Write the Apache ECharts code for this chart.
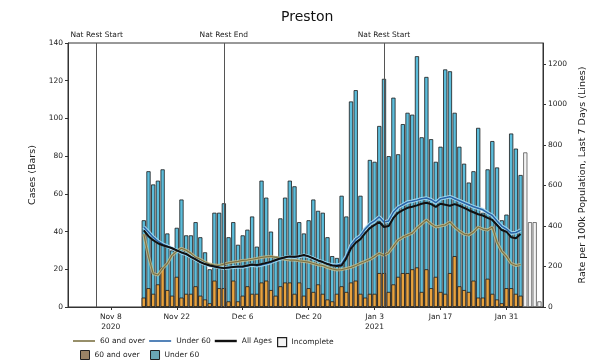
<!DOCTYPE html>
<html>
<head>
<meta charset="utf-8">
<script src="https://cdn.jsdelivr.net/npm/echarts@6/dist/echarts.min.js"></script>
<style>
  html, body { margin: 0; padding: 0; background: #fff; }
  #chart { width: 596px; height: 363px; }
</style>
</head>
<body>
<div id="chart"></div>
<script>
// daily values start on this date
const firstDay = '2020-11-15';

const over60Cases = [5, 10, 7, 12, 21, 9, 6, 16, 5, 7, 7, 11, 6, 4, 2, 14, 10, 10, 3, 14,
  3, 6, 11, 7, 7, 13, 14, 9, 6, 11, 13, 13, 7, 13, 6, 10, 8, 12, 7, 4,
  3, 7, 11, 8, 13, 14, 7, 5, 7, 7, 18, 18, 8, 12, 16, 18, 18, 20, 21, 8,
  20, 10, 16, 8, 7, 18, 27, 11, 9, 8, 14, 5, 5, 15, 7, 4, 2, 10, 10, 7, 6];
const under60Cases = [41, 62, 58, 55, 52, 30, 24, 26, 52, 31, 31, 34, 31, 25, 18, 36, 40, 45, 34, 31,
  30, 32, 30, 41, 25, 54, 44, 31, 21, 36, 45, 54, 57, 32, 33, 36, 49, 39, 43, 33,
  24, 19, 48, 40, 96, 101, 52, 35, 71, 70, 78, 103, 72, 99, 65, 79, 85, 82, 112, 82,
  102, 79, 61, 77, 119, 107, 76, 74, 67, 58, 58, 90, 45, 58, 81, 70, 44, 39, 82, 77, 64];
// last four days (Feb 4 - Feb 7)
const incompleteCases = [82, 45, 45, 3];

const over60Rate = [360, 250, 165, 158, 190, 215, 255, 275, 290, 280, 265, 245, 235, 222, 212, 207, 205, 212, 218, 222,
  225, 230, 232, 236, 240, 245, 248, 250, 245, 240, 236, 232, 232, 228, 225, 222, 215, 208, 205, 195,
  188, 183, 185, 190, 196, 205, 216, 225, 235, 250, 265, 255, 268, 300, 330, 345, 355, 365, 390, 410,
  430, 410, 395, 400, 405, 420, 395, 375, 360, 355, 370, 395, 385, 380, 395, 320, 275, 250, 215, 205, 210];
const under60Rate = [395, 370, 345, 325, 310, 300, 290, 280, 268, 260, 248, 235, 222, 212, 205, 200, 196, 192, 194, 197,
  198, 198, 203, 207, 204, 208, 214, 220, 230, 238, 244, 248, 246, 250, 256, 250, 240, 230, 222, 214,
  208, 206, 212, 250, 305, 335, 352, 385, 410, 425, 445, 420, 425, 468, 492, 505, 518, 522, 528, 535,
  538, 530, 515, 535, 540, 545, 535, 525, 515, 505, 495, 488, 480, 465, 452, 425, 400, 385, 365, 368, 380];
const allAgesRate = [378, 350, 330, 315, 305, 298, 290, 280, 270, 262, 248, 235, 222, 212, 205, 200, 195, 192, 195, 198,
  200, 200, 205, 210, 207, 212, 218, 224, 232, 240, 246, 250, 248, 252, 257, 250, 240, 230, 222, 212,
  205, 202, 205, 240, 290, 318, 335, 365, 390, 405, 420, 395, 400, 440, 465, 478, 490, 495, 502, 510,
  515, 508, 495, 510, 505, 500, 508, 500, 490, 478, 468, 458, 452, 440, 430, 405, 380, 372, 345, 340, 360];

const tickDates = ['2020-11-08', '2020-11-22', '2020-12-06', '2020-12-20', '2021-01-03', '2021-01-17', '2021-01-31'];
const tickLabels = ['Nov 8\n2020', 'Nov 22', 'Dec 6', 'Dec 20', 'Jan 3\n2021', 'Jan 17', 'Jan 31'];
const restDates = ['2020-11-05', '2020-12-02', '2021-01-05'];
const restLabels = ['Nat Rest Start', 'Nat Rest End', 'Nat Rest Start'];
const rateTicks = [0, 200, 400, 600, 800, 1000, 1200];

const dayIdx = (s) => (Date.parse(s) - Date.parse(firstDay)) / 864e5;
const pairs = (arr, offset = 0) => arr.map((v, i) => [i + offset, v]);
const tickDays = tickDates.map(dayIdx);

// value x axis can't stack by day, so the under-60 part is drawn as the full
// column and the 60+ part is laid over its bottom
const allCases = over60Cases.map((v, i) => v + under60Cases[i]);

const font = 'DejaVu Sans';
const txt = '#222';
const lineIcon = 'path://M0,0H22V1.6H0Z';
const boxIcon = 'path://M0,0H10V10H0Z';

const chart = echarts.init(document.getElementById('chart'));

const barStyle = (color) => ({ color: color, borderColor: '#1a1a1a', borderWidth: 0.8 });

const option = {
  animation: false,
  backgroundColor: '#fff',
  textStyle: { fontFamily: font, color: txt },
  title: {
    text: 'Preston',
    left: 276,
    top: 5,
    textStyle: { fontFamily: font, fontSize: 14, fontWeight: 'normal', color: '#111' },
  },
  grid: {
    left: 68, right: 53, top: 43, bottom: 56,
    show: true, borderColor: '#333', borderWidth: 1, backgroundColor: 'transparent',
    outerBoundsMode: 'none',
  },
  legend: [
    {
      left: 68, top: 332, itemWidth: 22, itemHeight: 8, itemGap: 4,
      textStyle: { fontFamily: font, fontSize: 7.5, color: txt },
      data: [
        { name: '60 and over', icon: lineIcon, itemStyle: { color: '#7d7345' } },
        { name: 'Under 60', icon: lineIcon, itemStyle: { color: '#2a65a8' } },
        { name: 'All Ages', icon: 'path://M0,0H22V2.4H0Z', itemStyle: { color: '#111' } },
      ],
    },
    {
      left: 272, top: 332, itemWidth: 9, itemHeight: 9, itemGap: 4,
      textStyle: { fontFamily: font, fontSize: 7.5, color: txt },
      data: [{ name: 'Incomplete', icon: boxIcon, itemStyle: { color: '#f4f4f4', borderColor: '#222', borderWidth: 1.2 } }],
    },
    {
      left: 75, top: 345, itemWidth: 9, itemHeight: 9, itemGap: 8,
      textStyle: { fontFamily: font, fontSize: 7.5, color: txt },
      data: [
        { name: '60 and over ', icon: boxIcon, itemStyle: { color: '#9a8366', borderColor: '#222', borderWidth: 1 } },
        { name: 'Under 60 ', icon: boxIcon, itemStyle: { color: '#6aa6b4', borderColor: '#222', borderWidth: 1 } },
      ],
    },
  ],
  xAxis: {
    type: 'value',
    min: -16.09,
    max: 84.76,
    splitLine: { show: false },
    axisLine: { show: true, onZero: false, lineStyle: { color: '#333' } },
    axisTick: { show: true, length: 3, customValues: tickDays, lineStyle: { color: '#333' } },
    axisLabel: {
      customValues: tickDays,
      fontFamily: font, fontSize: 7.5, color: txt, lineHeight: 10, margin: 5,
      formatter: (v) => {
        const i = tickDays.indexOf(Math.round(v));
        return i >= 0 ? tickLabels[i] : '';
      },
    },
  },
  yAxis: [
    {
      type: 'value',
      min: 0, max: 140, interval: 20,
      name: 'Cases (Bars)',
      nameLocation: 'middle', nameGap: 30, nameRotate: 90,
      nameTextStyle: { fontFamily: font, fontSize: 9.5, color: txt },
      splitLine: { show: false },
      axisLine: { show: true, onZero: false, lineStyle: { color: '#333' } },
      axisTick: { show: true, length: 3, lineStyle: { color: '#333' } },
      axisLabel: { fontFamily: font, fontSize: 7.5, color: txt, margin: 5 },
    },
    {
      type: 'value',
      min: 0, max: 1304,
      name: 'Rate per 100k Population, Last 7 Days (Lines)',
      nameLocation: 'middle', nameGap: 32, nameRotate: 90,
      nameTextStyle: { fontFamily: font, fontSize: 9.5, color: txt },
      splitLine: { show: false },
      axisLine: { show: true, onZero: false, lineStyle: { color: '#333' } },
      axisTick: { show: true, length: 3, customValues: rateTicks, lineStyle: { color: '#333' } },
      axisLabel: { customValues: rateTicks, fontFamily: font, fontSize: 7.5, color: txt, margin: 5,
        formatter: (v) => String(v) },
    },
  ],
  series: [
    {
      name: 'Under 60 ', type: 'bar', barWidth: 4.2, barGap: '-100%',
      data: pairs(allCases), itemStyle: barStyle('#5cbddb'),
    },
    {
      name: '60 and over ', type: 'bar', barWidth: 4.2, barGap: '-100%',
      data: pairs(over60Cases), itemStyle: barStyle('#e8a23e'),
    },
    {
      name: 'Incomplete', type: 'bar', barWidth: 4.2, barGap: '-100%',
      data: pairs(incompleteCases, over60Cases.length),
      itemStyle: { color: '#f4f4f4', borderColor: '#555', borderWidth: 0.8 },
    },
    // light halos under the thin lines
    {
      name: 'halo60', type: 'line', yAxisIndex: 1, silent: true, showSymbol: false, symbol: 'none',
      data: pairs(over60Rate), lineStyle: { color: '#c9c08e', width: 3, opacity: 0.8 }, z: 3,
    },
    {
      name: 'haloU60', type: 'line', yAxisIndex: 1, silent: true, showSymbol: false, symbol: 'none',
      data: pairs(under60Rate), lineStyle: { color: '#a6dcf2', width: 3.6, opacity: 0.9 }, z: 3,
    },
    {
      name: '60 and over', type: 'line', yAxisIndex: 1, showSymbol: false, symbol: 'none',
      data: pairs(over60Rate), lineStyle: { color: '#7d7345', width: 1.2 }, itemStyle: { color: '#7d7345' }, z: 4,
    },
    {
      name: 'Under 60', type: 'line', yAxisIndex: 1, showSymbol: false, symbol: 'none',
      data: pairs(under60Rate), lineStyle: { color: '#2a65a8', width: 1.5 }, itemStyle: { color: '#2a65a8' }, z: 4,
    },
    {
      name: 'All Ages', type: 'line', yAxisIndex: 1, showSymbol: false, symbol: 'none',
      data: pairs(allAgesRate), lineStyle: { color: '#111', width: 2 }, itemStyle: { color: '#111' }, z: 5,
      markLine: {
        silent: true, symbol: 'none', animation: false,
        lineStyle: { color: '#555', width: 1, type: 'solid' },
        label: { position: 'end', distance: 4, fontFamily: font, fontSize: 7.5, color: txt,
          formatter: (p) => restLabels[p.dataIndex] },
        data: restDates.map((d) => ({ xAxis: dayIdx(d) })),
      },
    },
  ],
};

chart.setOption(option);
</script>
</body>
</html>
